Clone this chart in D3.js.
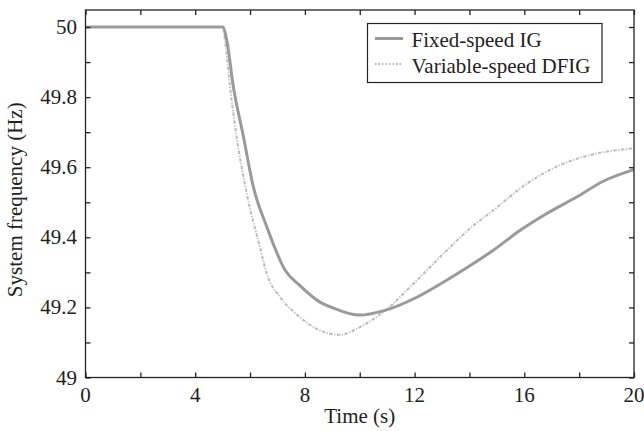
<!DOCTYPE html>
<html>
<head>
<meta charset="utf-8">
<script src="https://cdn.jsdelivr.net/npm/d3@7"></script>
<style>
html,body{margin:0;padding:0;background:#fff;}
</style>
</head>
<body>
<svg id="chart" width="644" height="431"></svg>
<script>
// ---- data ----
const seriesNames = ["Fixed-speed IG", "Variable-speed DFIG"];
const timeIG = [0, 5.0, 5.15, 5.39, 5.76, 6.12, 6.61, 7.28, 7.82, 8.55, 9.04, 10.0, 10.86, 12.08, 13.05, 14.0, 14.87, 15.85, 16.82, 17.91, 18.88, 20];
const freqIG = [50, 50, 49.963, 49.83, 49.687, 49.544, 49.43, 49.306, 49.262, 49.215, 49.198, 49.178, 49.19, 49.229, 49.272, 49.318, 49.363, 49.42, 49.468, 49.515, 49.56, 49.593];
const timeDFIG = [0, 5.0, 5.12, 5.27, 5.51, 5.88, 6.36, 6.61, 7.09, 7.70, 8.43, 9.28, 10.01, 10.86, 12.08, 13.05, 14.02, 14.87, 16.09, 17.3, 18.52, 20];
const freqDFIG = [50, 50, 49.94, 49.83, 49.687, 49.525, 49.372, 49.296, 49.23, 49.18, 49.139, 49.122, 49.144, 49.187, 49.277, 49.353, 49.425, 49.477, 49.553, 49.606, 49.637, 49.654];
const xTicks = [0, 2, 4, 6, 8, 10, 12, 14, 16, 18, 20];
const xTickLabels = [0, 4, 8, 12, 16, 20];
const yTicks = [49, 49.1, 49.2, 49.3, 49.4, 49.5, 49.6, 49.7, 49.8, 49.9, 50];
const yTickLabels = [49, 49.2, 49.4, 49.6, 49.8, 50];
const xLabel = "Time (s)";
const yLabel = "System frequency (Hz)";

// ---- layout ----
const L = 85.5, R = 634, T = 10, B = 377.5;
const FONT = "'Liberation Serif', 'Times New Roman', Tinos, 'Nimbus Roman', 'Nimbus Roman No9 L', FreeSerif, Times, serif";
const svg = d3.select("#chart");
const x = d3.scaleLinear().domain([0, 20]).range([L, R]);
const y = d3.scaleLinear().domain([49, 50.0486]).range([B, T]);
const axisColor = "#222";
const textColor = "#222";
const fontSize = 21;
const tickLen = 5;

// curves
const line = d3.line().x(d => x(d[0])).y(d => y(d[1])).curve(d3.curveMonotoneX);
const igData = timeIG.map((t, i) => [t, freqIG[i]]);
const dfData = timeDFIG.map((t, i) => [t, freqDFIG[i]]);

svg.append("path").datum(dfData).attr("d", line)
  .attr("fill", "none").attr("stroke", "#bcbcbc").attr("stroke-width", 2)
  .attr("stroke-dasharray", "3.5,1.5,1.2,1.5");
svg.append("path").datum(igData).attr("d", line)
  .attr("fill", "none").attr("stroke", "#9a9a9a").attr("stroke-width", 3)
  .attr("stroke-linejoin", "round");

// axes with inward ticks
function styleAxis(g) {
  g.select(".domain").remove();
  g.selectAll(".tick line").attr("stroke", axisColor).attr("stroke-width", 1.3);
  g.selectAll(".tick text").remove();
}
svg.append("g").attr("transform", `translate(0,${B})`)
  .call(d3.axisBottom(x).tickValues(xTicks).tickSizeInner(-tickLen).tickSizeOuter(0)).call(styleAxis);
svg.append("g").attr("transform", `translate(0,${T})`)
  .call(d3.axisTop(x).tickValues(xTicks).tickSizeInner(-tickLen).tickSizeOuter(0)).call(styleAxis);
svg.append("g").attr("transform", `translate(${L},0)`)
  .call(d3.axisLeft(y).tickValues(yTicks).tickSizeInner(-tickLen).tickSizeOuter(0)).call(styleAxis);
svg.append("g").attr("transform", `translate(${R},0)`)
  .call(d3.axisRight(y).tickValues(yTicks).tickSizeInner(-tickLen).tickSizeOuter(0)).call(styleAxis);

// frame
svg.append("rect").attr("x", L).attr("y", T).attr("width", R - L).attr("height", B - T)
  .attr("fill", "none").attr("stroke", axisColor).attr("stroke-width", 1.3);

// tick labels
svg.selectAll(".xl").data(xTickLabels).enter().append("text")
  .attr("x", d => x(d)).attr("y", 401.5).attr("text-anchor", "middle")
  .style("font-family", FONT).attr("font-size", fontSize).attr("fill", textColor).text(d => d);
svg.selectAll(".yl").data(yTickLabels).enter().append("text")
  .attr("x", 77).attr("y", d => y(d) + 7).attr("text-anchor", "end")
  .style("font-family", FONT).attr("font-size", fontSize).attr("fill", textColor).text(d => d3.format("")(d));

// axis labels
svg.append("text").attr("x", (L + R) / 2).attr("y", 423).attr("text-anchor", "middle")
  .style("font-family", FONT).attr("font-size", fontSize).attr("fill", textColor).text(xLabel);
svg.append("text").attr("transform", `translate(22,${(T + B) / 2 + 6}) rotate(-90)`)
  .attr("text-anchor", "middle").style("font-family", FONT).attr("font-size", fontSize).attr("fill", textColor).text(yLabel);

// legend
const lg = svg.append("g");
lg.append("rect").attr("x", 367.5).attr("y", 23.5).attr("width", 234.5).attr("height", 59)
  .attr("fill", "#fff").attr("stroke", axisColor).attr("stroke-width", 1.2);
const legendItems = [
  {name: seriesNames[0], color: "#9a9a9a", width: 3, dash: null, y: 38.5},
  {name: seriesNames[1], color: "#bcbcbc", width: 2, dash: "1.5,2", y: 64}
];
legendItems.forEach(it => {
  lg.append("line").attr("x1", 375).attr("x2", 403).attr("y1", it.y).attr("y2", it.y)
    .attr("stroke", it.color).attr("stroke-width", it.width)
    .attr("stroke-dasharray", it.dash);
  lg.append("text").attr("x", 411.5).attr("y", it.y + 8.5).style("font-family", FONT).attr("font-size", fontSize)
    .attr("fill", textColor).text(it.name);
});
</script>
</body>
</html>
